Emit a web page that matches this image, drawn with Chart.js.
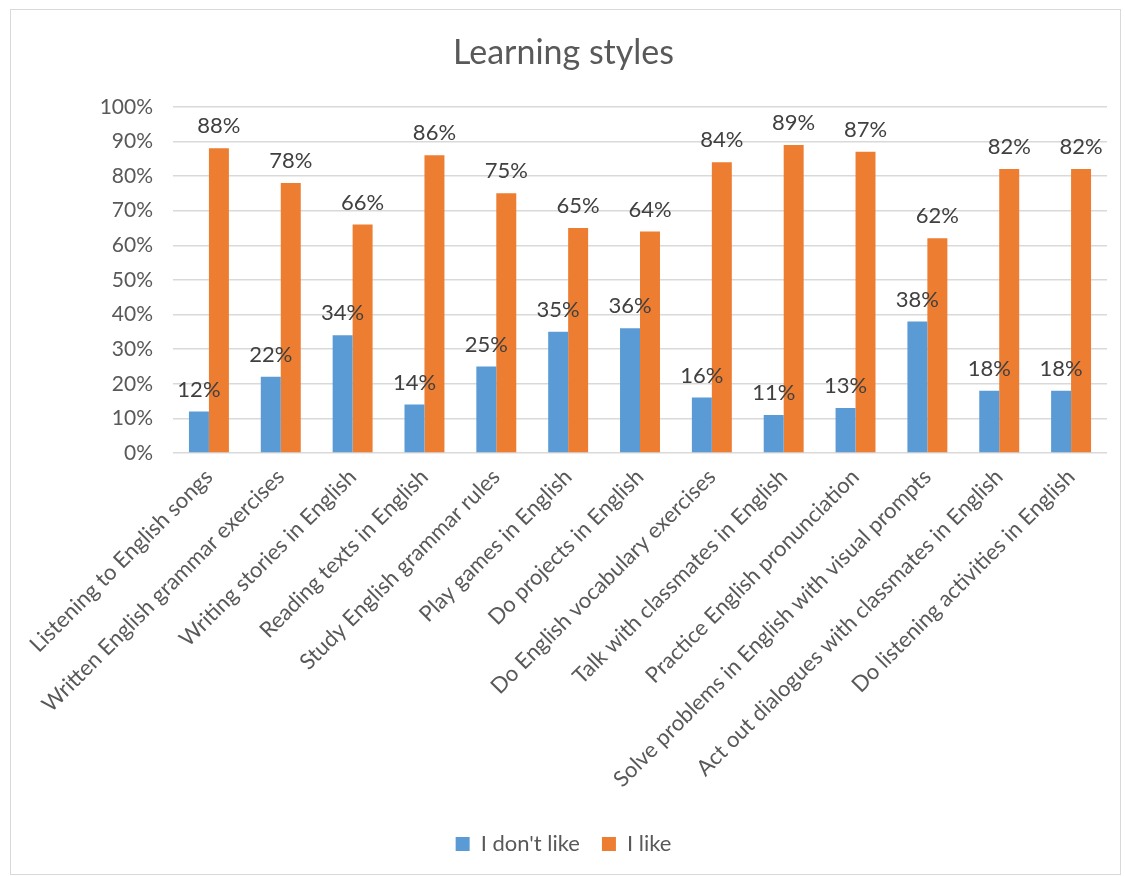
<!DOCTYPE html>
<html>
<head>
<meta charset="utf-8">
<script src="https://cdn.jsdelivr.net/npm/chart.js@4"></script>
<style>
  html, body { margin: 0; padding: 0; background: #fff; }
  #wrap { position: relative; width: 1125px; height: 876px; }
  #frame { position: absolute; left: 10px; top: 9px; width: 1111px; height: 866px; border: 1px solid #d9d9d9; box-sizing: border-box; pointer-events: none; }
</style>
</head>
<body>
<div id="wrap">
  <canvas id="learningChart" width="1125" height="876"></canvas>
  <div id="frame"></div>
</div>
<script>
const categories = [
  "Listening to English songs",
  "Written English grammar exercises",
  "Writing stories in English",
  "Reading texts in English",
  "Study English grammar rules",
  "Play games in English",
  "Do projects in English",
  "Do English vocabulary exercises",
  "Talk with classmates in English",
  "Practice English pronunciation",
  "Solve problems in English with visual prompts",
  "Act out dialogues with classmates in English",
  "Do listening activities in English"
];
const dontLike = [12, 22, 34, 14, 25, 35, 36, 16, 11, 13, 38, 18, 18];
const like = [88, 78, 66, 86, 75, 65, 64, 84, 89, 87, 62, 82, 82];
const seriesNames = ["I don't like", "I like"];

const FONT = "Lato, 'Noto Sans', sans-serif";
const TEXT = "#595959";

// draws the % values above each bar
const barLabels = {
  id: "barLabels",
  afterDatasetsDraw(chart) {
    const ctx = chart.ctx;
    ctx.save();
    ctx.font = "22px " + FONT;
    ctx.fillStyle = "#404040";
    ctx.textAlign = "center";
    ctx.textBaseline = "middle";
    chart.data.datasets.forEach((ds, i) => {
      chart.getDatasetMeta(i).data.forEach((bar, j) => {
        ctx.fillText(ds.data[j] + "%", bar.x, bar.y - 22);
      });
    });
    ctx.restore();
  }
};

const chart = new Chart(document.getElementById("learningChart"), {
  type: "bar",
  data: {
    labels: categories,
    datasets: [
      { label: seriesNames[0], data: dontLike, backgroundColor: "#5b9bd5" },
      { label: seriesNames[1], data: like, backgroundColor: "#ed7d31" }
    ]
  },
  options: {
    responsive: false,
    animation: false,
    categoryPercentage: 0.556,
    barPercentage: 1,
    layout: { padding: { left: 20, right: 18, top: 23, bottom: 11 } },
    plugins: {
      title: {
        display: true,
        text: "Learning styles",
        color: TEXT,
        font: { family: FONT, size: 34, weight: "normal" },
        padding: { top: 10, bottom: 33 }
      },
      legend: {
        position: "bottom",
        labels: {
          color: TEXT,
          font: { family: FONT, size: 22 },
          boxWidth: 14,
          boxHeight: 14,
          padding: 22
        }
      },
      tooltip: { enabled: false }
    },
    scales: {
      x: {
        grid: { display: false },
        border: { display: false },
        ticks: {
          color: TEXT,
          font: { family: FONT, size: 22 },
          minRotation: 45,
          maxRotation: 45,
          autoSkip: false
        },
        afterFit(scale) { scale.height = 358; }
      },
      y: {
        min: 0,
        max: 100,
        grid: { color: "#d9d9d9", lineWidth: 1.5, drawTicks: false },
        border: { display: false },
        ticks: {
          stepSize: 10,
          color: TEXT,
          padding: 20,
          font: { family: FONT, size: 21 },
          callback: v => v + "%"
        },
        afterFit(scale) { scale.width = 153; }
      }
    }
  },
  plugins: [barLabels]
});
</script>
</body>
</html>
